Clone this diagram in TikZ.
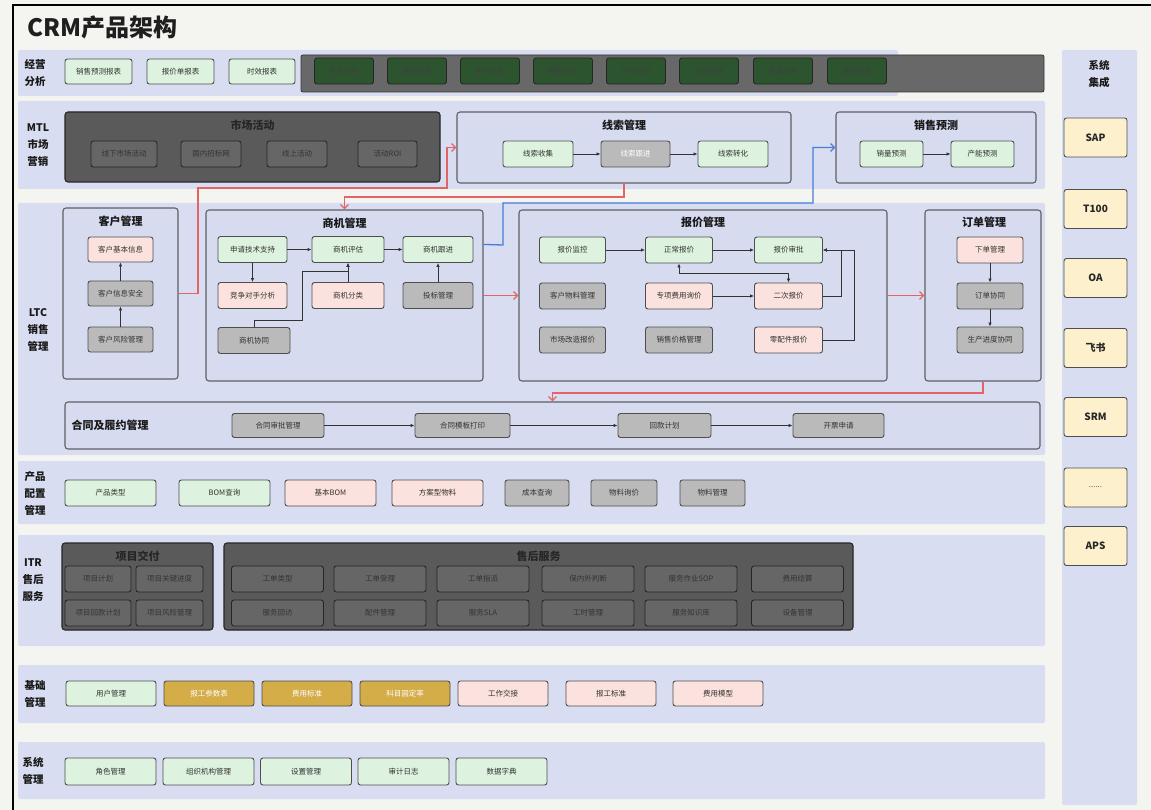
\documentclass[tikz,border=0pt]{standalone}
\usepackage{fontspec}
\setmainfont{Noto Sans CJK SC}
\usetikzlibrary{arrows.meta,calc}
\definecolor{pagebg}{RGB}{244,244,240}
\definecolor{band}{RGB}{217,221,241}
\definecolor{grp}{RGB}{214,219,240}
\definecolor{grpline}{RGB}{95,95,100}
\definecolor{gfill}{RGB}{221,243,223}
\definecolor{pfill}{RGB}{252,226,222}
\definecolor{gyfill}{RGB}{186,186,186}
\definecolor{dkreg}{RGB}{104,104,104}
\definecolor{dkbox}{RGB}{90,90,90}
\definecolor{dkin}{RGB}{102,102,102}
\definecolor{dkgreen}{RGB}{44,84,46}
\definecolor{gold}{RGB}{212,172,72}
\definecolor{yfill}{RGB}{253,240,204}
\definecolor{redl}{RGB}{226,100,100}
\definecolor{bluel}{RGB}{70,125,215}
\definecolor{edge}{RGB}{78,78,78}
\definecolor{txt}{RGB}{50,50,50}
\tikzset{
  box/.style={draw=edge, line width=0.9pt, rounded corners=2.5pt, inner sep=0pt, font=\fontsize{7.5}{9}\selectfont, text=txt},
  gb/.style={box, fill=gfill},
  pb/.style={box, fill=pfill},
  yb/.style={box, fill=gyfill},
  db/.style={box, fill=dkin, draw=black!85, text=black!80},
  dg/.style={box, fill=dkgreen, draw=black!85, text=black!75},
  ob/.style={box, fill=gold, text=white!92},
  sb/.style={box, fill=yfill, font=\fontsize{10}{12}\selectfont\bfseries, text=black!85},
  grpbox/.style={draw=grpline, line width=1.1pt, rounded corners=3pt, fill=grp, inner sep=0pt},
  dgrp/.style={draw=black!85, line width=1.1pt, rounded corners=3pt, fill=dkbox, inner sep=0pt},
  ttl/.style={font=\fontsize{11}{13}\selectfont\bfseries, text=black!90},
  rowlab/.style={font=\fontsize{10.5}{17}\selectfont\bfseries, align=center, text=black!90},
  arr/.style={-{Latex[length=4pt,width=3.5pt]}, line width=0.9pt, draw=black!80},
  redarr/.style={-{Straight Barb[length=4pt,width=8pt]}, line width=1.3pt, draw=redl},
  bluearr/.style={-{Straight Barb[length=4pt,width=8pt]}, line width=1.3pt, draw=bluel},
  bandfill/.style={fill=band, rounded corners=2pt}
}
\newcommand\bx[7]{\node[#1, minimum width=#5pt, minimum height=#6pt] (#2) at (#3,#4) {#7};}
\begin{document}
\begin{tikzpicture}[x=1pt,y=-1pt]
\useasboundingbox (0,0) rectangle (1151,810);
\fill[pagebg] (0,0) rectangle (1151,810);
\draw[line width=2.5pt, black] (13,810) -- (13,5) -- (1151,5);
% title
\node[anchor=west, font=\fontsize{24}{28}\selectfont\bfseries, text=black!88] (title) at (24,27) {CRM产品架构};
% bands
\fill[bandfill] (18,50) rectangle (898,96);
\fill[bandfill] (18,101) rectangle (1045,189);
\fill[bandfill] (18,203) rectangle (1045,455);
\fill[bandfill] (18,461) rectangle (1045,524);
\fill[bandfill] (18,535) rectangle (1045,646);
\fill[bandfill] (18,665) rectangle (1045,723);
\fill[bandfill] (18,742) rectangle (1045,799);
\fill[bandfill] (1062,50) rectangle (1137,805);
% ===== row 1 经营分析
\node[rowlab] (l1) at (35,73) {经营\\分析};
\bx{gb}{r1a}{98.5}{71.5}{67}{25}{销售预测报表}
\bx{gb}{r1b}{180.5}{71.5}{67}{25}{报价单报表}
\bx{gb}{r1c}{262}{71.5}{66}{25}{时效报表}
\node[draw=black!80, line width=0.8pt, fill=dkreg, rounded corners=2pt, minimum width=743pt, minimum height=37pt, inner sep=0pt] (dkr) at (672.5,73.5) {};
\bx{dg}{a1}{344}{71}{59}{26}{市场分析}
\bx{dg}{a2}{417}{71}{59}{26}{目标分析}
\bx{dg}{a3}{490}{71}{59}{26}{客户分析}
\bx{dg}{a4}{563}{71}{59}{26}{销售分析}
\bx{dg}{a5}{636}{71}{59}{26}{行为分析}
\bx{dg}{a6}{709}{71}{59}{26}{订单分析}
\bx{dg}{a7}{783}{71}{59}{26}{商品分析}
\bx{dg}{a8}{857}{71}{59}{26}{流失分析}
% ===== MTL
\node[rowlab] (l2) at (38,145) {MTL\\市场\\营销};
\node[dgrp, minimum width=375pt, minimum height=70pt] (sc) at (252.5,147) {};
\node[ttl, text=black!85] (sct) at (252.5,125) {市场活动};
\bx{db}{sc1}{124}{154}{66}{26}{线下市场活动}
\bx{db}{sc2}{211}{154}{60}{26}{国内招标网}
\bx{db}{sc3}{297}{154}{60}{26}{线上活动}
\bx{db}{sc4}{387.5}{154}{59}{26}{活动ROI}
\node[grpbox, minimum width=334pt, minimum height=71pt] (xs) at (624,147.5) {};
\node[ttl] (xst) at (624,125) {线索管理};
\bx{gb}{xs1}{538}{154}{70}{26}{线索收集}
\bx{yb, text=white!90}{xs2}{635.5}{154}{69}{26}{线索跟进}
\bx{gb}{xs3}{733}{154}{70}{26}{线索转化}
\node[grpbox, minimum width=200pt, minimum height=71pt] (yc) at (936,147.5) {};
\node[ttl] (yct) at (936,125) {销售预测};
\bx{gb}{yc1}{891.5}{154}{63}{26}{销量预测}
\bx{gb}{yc2}{982.5}{154}{63}{26}{产能预测}
\draw[arr] (xs1.east) -- (xs2.west);
\draw[arr] (xs2.east) -- (xs3.west);
\draw[arr] (yc1.east) -- (yc2.west);
% ===== LTC
\node[rowlab] (l3) at (38,330) {LTC\\销售\\管理};
\node[grpbox, minimum width=115pt, minimum height=171pt] (kh) at (120.5,293.5) {};
\node[ttl] (kht) at (120.5,221) {客户管理};
\bx{pb}{kh1}{120.5}{249.5}{65}{25}{客户基本信息}
\bx{yb}{kh2}{120.5}{293.5}{65}{25}{客户信息安全}
\bx{yb}{kh3}{120.5}{339.5}{65}{25}{客户风险管理}
\draw[arr] (kh3.north) -- (kh2.south);
\draw[arr] (kh2.north) -- (kh1.south);
\node[grpbox, minimum width=277pt, minimum height=171pt] (sj) at (344.5,295.5) {};
\node[ttl] (sjt) at (344.5,223) {商机管理};
\bx{gb}{sq1}{252.5}{249.5}{69}{26}{申请技术支持}
\bx{gb}{sq2}{348}{249.5}{72}{26}{商机评估}
\bx{gb}{sq3}{438}{249.5}{70}{26}{商机跟进}
\bx{pb}{sq4}{252.5}{295.5}{69}{26}{竞争对手分析}
\bx{pb}{sq5}{348}{295.5}{72}{26}{商机分类}
\bx{yb}{sq6}{438}{295.5}{70}{26}{投标管理}
\bx{yb}{sq7}{254}{340.5}{72}{26}{商机协同}
\draw[arr] (sq1.east) -- (sq2.west);
\draw[arr] (sq2.east) -- (sq3.west);
\draw[arr] (sq1.south) -- (sq4.north);
\draw[arr] (sq5.north) -- (sq2.south);
\draw[arr] (sq6.north) -- (sq3.south);
\draw[arr] (sq7.north) -- (254,320) -- (302,320) -- (302,271) -| (sq2.south);
\node[grpbox, minimum width=368pt, minimum height=171pt] (bj) at (703,295.5) {};
\node[ttl] (bjt) at (703,222) {报价管理};
\bx{gb}{bj1}{572.5}{250}{66}{26}{报价监控}
\bx{gb}{bj2}{679}{250}{67}{26}{正常报价}
\bx{gb}{bj3}{788.5}{250}{68}{26}{报价审批}
\bx{yb}{bj4}{572.5}{296}{66}{26}{客户物料管理}
\bx{pb}{bj5}{679}{296}{67}{26}{专项费用询价}
\bx{pb}{bj6}{788.5}{296}{68}{26}{二次报价}
\bx{yb}{bj7}{572.5}{340}{66}{26}{市场改造报价}
\bx{yb}{bj8}{679}{340}{67}{26}{销售价格管理}
\bx{pb}{bj9}{788.5}{340}{68}{26}{零配件报价}
\draw[arr] (bj1.east) -- (bj2.west);
\draw[arr] (bj2.east) -- (bj3.west);
\draw[arr] (bj5.east) -- (bj6.west);
\draw[arr, {Latex[length=4pt,width=3.5pt]}-{Latex[length=4pt,width=3.5pt]}] (bj2.south) -- (679,273) -| (bj6.north);
\draw[arr] (bj6.east) -- (841,296) |- (bj3.east);
\draw[arr] (bj9.east) -- (854,340) |- (bj3.east);
\node[grpbox, minimum width=116pt, minimum height=171pt] (dd) at (983,295.5) {};
\node[ttl] (ddt) at (984,222) {订单管理};
\bx{pb}{dd1}{990}{250}{66}{26}{下单管理}
\bx{yb}{dd2}{990}{296}{66}{26}{订单协同}
\bx{yb}{dd3}{990}{340}{66}{26}{生产进度协同}
\draw[arr] (dd1.south) -- (dd2.north);
\draw[arr] (dd2.south) -- (dd3.north);
% contract
\node[grpbox, minimum width=975pt, minimum height=47pt] (ht) at (552.5,425.5) {};
\node[ttl] (htt) at (110,425.5) {合同及履约管理};
\bx{yb}{ht1}{278}{425.5}{92}{24}{合同审批管理}
\bx{yb}{ht2}{462.5}{425.5}{95}{24}{合同模板打印}
\bx{yb}{ht3}{664.5}{425.5}{93}{24}{回款计划}
\bx{yb}{ht4}{838.5}{425.5}{91}{24}{开票申请}
\draw[arr] (ht1.east) -- (ht2.west);
\draw[arr] (ht2.east) -- (ht3.west);
\draw[arr] (ht3.east) -- (ht4.west);
% cross-group connectors
\draw[redarr] (kh.east) -- (198,293.5) -- (198,188) -- (447,188) |- (xs.west);
\draw[redarr] (xs.south) -- (624,197) -| (sj.north);
\draw[bluearr] ($(sj.north east)+(0,35)$) -- (503,245) -- (503,203) -- (813,203) |- (yc.west);
\draw[redarr] (sj.east) -- (bj.west);
\draw[redarr] (bj.east) -- (dd.west);
\draw[redarr] (dd.south) -- (983,393) -| (ht.north);
% ===== 产品配置
\node[rowlab] (l4) at (35,493) {产品\\配置\\管理};
\bx{gb}{cp1}{110.5}{493}{91}{26}{产品类型}
\bx{gb}{cp2}{224.5}{493}{91}{26}{BOM查询}
\bx{pb}{cp3}{330.5}{493}{91}{26}{基本BOM}
\bx{pb}{cp4}{437.5}{493}{91}{26}{方案型物料}
\bx{yb}{cp5}{537}{493}{64}{26}{成本查询}
\bx{yb}{cp6}{624}{493}{66}{26}{物料询价}
\bx{yb}{cp7}{712.5}{493}{65}{26}{物料管理}
% ===== ITR
\node[rowlab] (l5) at (33,580) {ITR\\售后\\服务};
\node[dgrp, minimum width=151pt, minimum height=87pt] (xm) at (137.5,586.5) {};
\node[ttl, text=black!85] (xmt) at (137.5,556) {项目交付};
\node[dgrp, minimum width=629pt, minimum height=87pt] (sh) at (538.5,586.5) {};
\node[ttl, text=black!85] (sht) at (538.5,556) {售后服务};
\bx{db}{it1}{98}{579}{66}{26}{项目计划}
\bx{db}{it2}{169.5}{579}{67}{26}{项目关键进度}
\bx{db}{it3}{98}{613}{66}{26}{项目回款计划}
\bx{db}{it4}{169.5}{613}{67}{26}{项目风险管理}
\bx{db}{s1}{277.5}{579}{92}{26}{工单类型}
\bx{db}{s2}{380}{579}{92}{26}{工单受理}
\bx{db}{s3}{483}{579}{92}{26}{工单指派}
\bx{db}{s4}{588}{579}{92}{26}{保内外判断}
\bx{db}{s5}{691}{579}{92}{26}{服务作业SOP}
\bx{db}{s6}{797.5}{579}{92}{26}{费用结算}
\bx{db}{s7}{277.5}{613}{92}{26}{服务回访}
\bx{db}{s8}{380}{613}{92}{26}{配件管理}
\bx{db}{s9}{483}{613}{92}{26}{服务SLA}
\bx{db}{s10}{588}{613}{92}{26}{工时管理}
\bx{db}{s11}{691}{613}{92}{26}{服务知识库}
\bx{db}{s12}{797.5}{613}{92}{26}{设备管理}
% ===== 基础管理
\node[rowlab] (l6) at (35,694) {基础\\管理};
\bx{gb}{jc1}{111}{693.5}{90}{25}{用户管理}
\bx{ob}{jc2}{209}{693.5}{90}{25}{报工参数表}
\bx{ob}{jc3}{307}{693.5}{90}{25}{费用标准}
\bx{ob}{jc4}{405}{693.5}{90}{25}{科目固定率}
\bx{pb}{jc5}{503}{693.5}{90}{25}{工作交接}
\bx{pb}{jc6}{611}{693.5}{90}{25}{报工标准}
\bx{pb}{jc7}{718}{693.5}{90}{25}{费用模型}
% ===== 系统管理
\node[rowlab] (l7) at (33,771) {系统\\管理};
\bx{gb}{xt1}{110.5}{771.5}{91}{27}{角色管理}
\bx{gb}{xt2}{208.5}{771.5}{91}{27}{组织机构管理}
\bx{gb}{xt3}{306}{771.5}{91}{27}{设置管理}
\bx{gb}{xt4}{403.5}{771.5}{91}{27}{审计日志}
\bx{gb}{xt5}{501.5}{771.5}{91}{27}{数据字典}
% ===== 系统集成
\node[rowlab] (l8) at (1099,74) {系统\\集成};
\bx{sb}{j1}{1095.5}{137.5}{63}{39}{SAP}
\bx{sb}{j2}{1095.5}{209}{63}{39}{T100}
\bx{sb}{j3}{1095.5}{278}{63}{39}{OA}
\bx{sb}{j4}{1095.5}{348}{63}{39}{飞书}
\bx{sb}{j5}{1095.5}{417}{63}{39}{SRM}
\bx{sb, font=\fontsize{8}{10}\selectfont, text=black!60}{j6}{1095.5}{487.5}{63}{39}{......}
\bx{sb}{j7}{1095.5}{546}{63}{39}{APS}
\end{tikzpicture}
\end{document}
